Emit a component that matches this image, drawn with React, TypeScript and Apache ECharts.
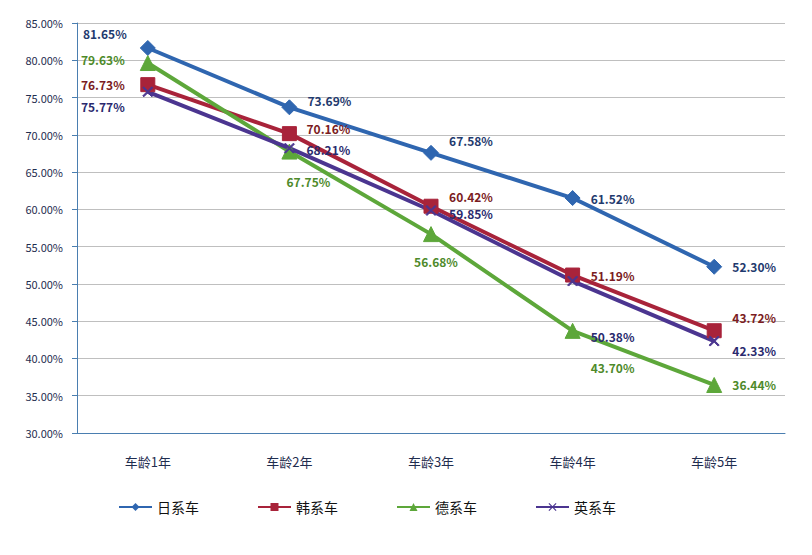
import React, { useEffect, useRef } from "react";
import * as echarts from "echarts";

const categories = ["车龄1年", "车龄2年", "车龄3年", "车龄4年", "车龄5年"];
const japan = [81.65, 73.69, 67.58, 61.52, 52.3];
const korea = [76.73, 70.16, 60.42, 51.19, 43.72];
const germany = [79.63, 67.75, 56.68, 43.7, 36.44];
const britain = [75.77, 68.21, 59.85, 50.38, 42.33];

const japanOffsets = [[-43, -14], [40, -7], [40, -12], [40, 0], [40, 0]];
const koreaOffsets = [[-45, 0], [39, -5], [40, -10], [40, 0], [40, -13]];
const germanyOffsets = [[-45, -4], [19, 30], [5, 27], [40, 37], [40, 0]];
const britainOffsets = [[-45, 15], [39, 1], [40, 3], [40, 55], [40, 9]];

const X_PATH = "path://M1,0L5,4L9,0L10,1L6,5L10,9L9,10L5,6L1,10L0,9L4,5L0,1Z";

function mkSeries(name: string, data: number[], offsets: number[][], color: string, labelColor: string, symbol: string, size: number) {
  return {
    name,
    type: "line",
    data: data.map((v, i) => ({
      value: v,
      label: { offset: offsets[i] },
    })),
    symbol,
    symbolSize: size,
    lineStyle: { width: 4, color },
    itemStyle: { color, borderColor: color },
    label: {
      show: true,
      position: "inside",
      align: "center",
      verticalAlign: "middle",
      formatter: (p: any) => p.value.toFixed(2) + "%",
      color: labelColor,
      fontWeight: "bold",
      fontSize: 12,
      fontFamily: "Noto Sans CJK SC",
    },
    z: 3,
  };
}

export default function App() {
  const ref = useRef<HTMLDivElement>(null);
  useEffect(() => {
    const chart = echarts.init(ref.current!, null, { renderer: "svg" });
    chart.setOption({
      animation: false,
      backgroundColor: "#ffffff",
      textStyle: { fontFamily: "Noto Sans CJK SC" },
      grid: { left: 69, right: 19, top: 15, bottom: 114 },
      legend: {
        bottom: 28,
        left: 105,
        itemWidth: 33,
        itemHeight: 10,
        itemGap: 58,
        textStyle: { fontSize: 14, color: "#111", fontFamily: "Noto Sans CJK SC" },
        data: ["日系车", "韩系车", "德系车", "英系车"],
      },
      xAxis: {
        type: "category",
        data: categories,
        boundaryGap: true,
        axisLine: { lineStyle: { color: "#4A7EB0", width: 1 } },
        axisTick: { alignWithLabel: true, inside: true, length: 4, lineStyle: { color: "#888" } },
        axisLabel: { fontSize: 13, color: "#1F2D4F", margin: 22 },
      },
      yAxis: {
        type: "value",
        min: 30,
        max: 85,
        interval: 5,
        axisLine: { show: true, lineStyle: { color: "#4A7EB0", width: 1 } },
        axisTick: { show: true, length: 5, lineStyle: { color: "#4A7EB0" } },
        axisLabel: {
          fontSize: 11,
          color: "#1F2D4F",
          margin: 14,
          formatter: (v: number) => v.toFixed(2) + "%",
        },
        splitLine: { lineStyle: { color: "#BFBFBF", width: 1 } },
      },
      series: [
        mkSeries("日系车", japan, japanOffsets, "#2F66B0", "#1F3A6E", "diamond", 15),
        mkSeries("韩系车", korea, koreaOffsets, "#A8233A", "#7B1C22", "rect", 14),
        mkSeries("德系车", germany, germanyOffsets, "#5DA73A", "#4E8A2A", "triangle", 15),
        mkSeries("英系车", britain, britainOffsets, "#4B3590", "#2A2A6E", X_PATH, 10),
      ],
    });
    return () => chart.dispose();
  }, []);
  return <div ref={ref} style={{ width: 796, height: 539 }} />;
}
